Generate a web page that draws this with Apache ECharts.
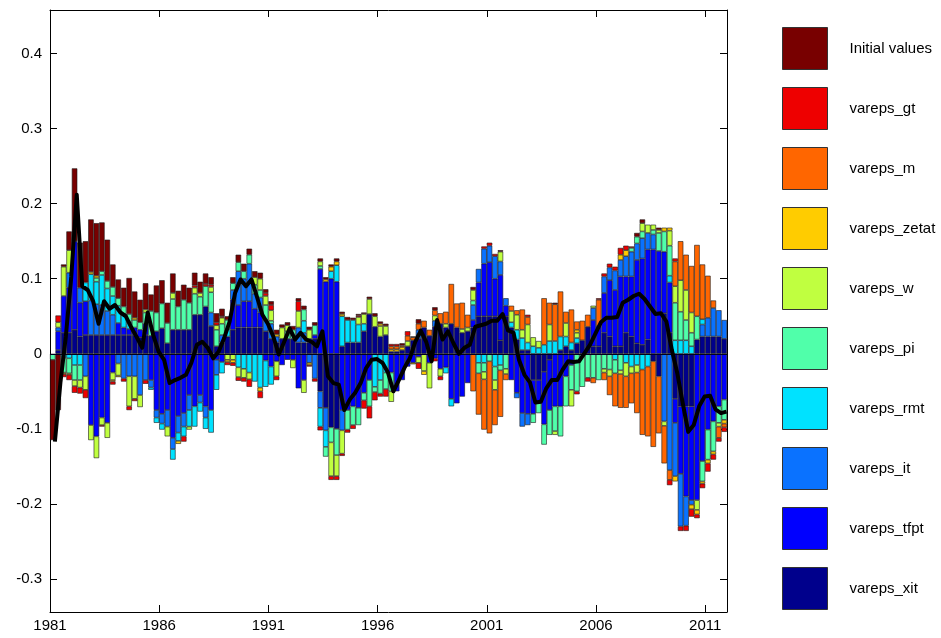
<!DOCTYPE html>
<html>
<head>
<meta charset="utf-8">
<title>Historical shock decomposition</title>
<script src="https://cdn.jsdelivr.net/npm/echarts@6/dist/echarts.min.js"></script>
<style>
  html, body { margin: 0; padding: 0; background: #fff; }
  #chart { width: 941px; height: 638px; }
</style>
</head>
<body>
<div id="chart"></div>
<script>
// quarterly contributions, 1981Q1 .. 2011Q4 (124 quarters)
const firstYear = 1981;
const yearLabels = [1981, 1986, 1991, 1996, 2001, 2006, 2011];
const valueTicks = [-0.3, -0.2, -0.1, 0, 0.1, 0.2, 0.3, 0.4];

const initialValues = [
  -.107, -.075, .003, .025, .097, .06, .055, .07, .07, .065,
  .055, .03, .025, .025, .048, .035, .03, .035, .022, .036,
  .031, .027, .026, .021, .02, .02, .017, .015, .014, .01,
  .012, .01, .005, .008, .01, .01, .008, .008, .008, .005,
  .005, .006, .004, .004, .005, .004, .005, .004, .004, .004,
  .003, .003, .004, .003, .004, .003, .002, .002, .003, .004,
  .003, .003, 0, 0, .003, 0, .001, .006, 0, 0,
  .004, 0, 0, 0, 0, 0, 0, .004, 0, 0,
  0, 0, .002, 0, 0, 0, 0, 0, 0, 0,
  0, 0, .002, 0, 0, 0, 0, 0, 0, 0,
  0, 0, 0, 0, 0, 0, 0, .005, .005, 0,
  0, .003, 0, 0, 0, 0, 0, 0, 0, 0,
  0, 0, 0, 0
];
const varepsGt = [
  0, .009, -.004, -.007, -.009, -.008, -.011, 0, 0, -.002,
  0, -.004, 0, -.004, -.005, -.003, 0, -.005, 0, 0,
  0, 0, 0, 0, -.007, 0, .003, 0, .003, .003,
  .004, .002, -.004, -.004, -.005, -.005, -.01, 0, -.009, .004,
  .007, -.005, 0, 0, 0, .013, 0, -.002, -.004, -.005,
  0, -.005, -.005, -.003, -.004, -.005, .002, -.011, -.016, -.011,
  -.004, -.01, .003, .003, 0, .006, 0, -.008, 0, 0,
  -.004, -.005, 0, 0, 0, 0, 0, 0, 0, .003,
  .004, .003, 0, 0, 0, 0, 0, .003, 0, 0,
  0, 0, 0, 0, 0, 0, -.004, 0, -.005, 0,
  .002, .004, .005, .005, .009, .006, .002, 0, 0, 0,
  0, 0, 0, -.007, .004, -.006, -.007, -.01, -.005, -.006,
  -.011, -.007, -.005, -.006
];
const varepsM = [
  0, 0, 0, 0, 0, 0, 0, 0, 0, 0,
  0, 0, 0, 0, 0, 0, 0, 0, 0, 0,
  0, 0, 0, 0, 0, 0, 0, 0, 0, 0,
  0, 0, 0, 0, 0, 0, 0, 0, 0, 0,
  0, 0, 0, 0, 0, 0, 0, 0, 0, 0,
  0, 0, 0, 0, 0, 0, 0, 0, 0, 0,
  0, 0, .004, .004, .002, .007, .004, .008, .009, .008,
  .007, .014, .016, .053, .032, .035, .017, -.05, -.055, -.067,
  -.096, -.047, -.062, -.008, .007, .006, .027, .01, 0, 0,
  .062, .029, .049, .06, .015, .044, .011, .026, .016, -.007,
  .035, -.01, -.025, -.044, -.045, -.042, -.04, -.054, -.087, -.093,
  -.114, -.076, -.05, -.013, .033, .052, .047, .062, .095, .073,
  .056, .01, -.015, -.005
];
const varepsZetat = [
  0, 0, -.002, -.002, 0, 0, 0, .003, .003, 0,
  0, -.002, -.002, 0, 0, .003, 0, 0, 0, 0,
  0, 0, 0, -.004, 0, 0, 0, 0, 0, 0,
  0, 0, -.003, -.004, 0, 0, 0, 0, -.005, 0,
  0, .003, 0, 0, 0, 0, 0, -.003, 0, 0,
  .003, .006, .005, .003, 0, 0, 0, 0, 0, 0,
  .003, 0, .003, .003, .004, 0, -.002, 0, -.005, 0,
  0, 0, 0, 0, 0, 0, 0, 0, 0, 0,
  0, 0, 0, 0, 0, 0, 0, 0, 0, 0,
  0, 0, 0, 0, 0, 0, .004, 0, 0, 0,
  0, 0, 0, 0, .007, .008, 0, 0, 0, 0,
  0, 0, .005, .004, -.007, 0, 0, -.006, -.006, -.003,
  -.005, -.004, 0, -.005
];
const varepsW = [
  0, .007, .039, .03, -.008, -.01, -.018, -.02, -.029, -.01,
  -.02, -.01, -.016, 0, -.04, -.03, -.016, .004, 0, 0,
  0, -.013, .008, 0, 0, -.004, .008, .005, 0, .007,
  .006, .008, -.008, -.008, -.013, -.012, -.009, .01, .015, .012,
  .014, -.02, .015, .008, -.011, .022, -.017, .012, 0, .006,
  0, -.045, -.028, -.031, 0, 0, .01, .013, .02, .014,
  .014, .012, -.014, 0, 0, .007, 0, -.008, -.023, -.034,
  .007, -.01, .005, 0, 0, .005, .005, .014, 0, -.01,
  0, -.013, .013, -.007, .015, .02, .011, .024, .012, .009,
  0, .022, -.005, 0, .018, -.022, .007, 0, 0, .003,
  0, -.005, -.009, 0, -.005, -.018, -.009, -.01, .011, .011,
  .007, .004, -.006, .02, .022, .042, .04, .027, -.013, 0,
  0, 0, -.005, 0
];
const varepsPi = [
  -.008, 0, -.02, -.02, -.02, -.02, 0, 0, .005, .005,
  .01, .012, .01, .01, .01, .01, .01, .015, .033, .025,
  .033, .027, .041, .031, .04, .036, .028, .024, .027, .027,
  .022, .015, .012, .009, .012, .01, .012, .012, .01, .02,
  .004, 0, 0, .01, .012, 0, .015, 0, .013, .004,
  -.013, -.02, -.035, 0, -.026, -.025, -.023, -.01, -.035, -.007,
  -.018, -.022, -.025, 0, 0, 0, 0, 0, 0, 0,
  0, 0, 0, 0, 0, 0, 0, .006, -.014, -.012,
  -.01, -.018, -.007, -.02, 0, 0, 0, 0, -.012, -.014,
  -.027, -.033, -.033, -.04, -.04, -.033, -.05, -.044, -.032, -.032,
  -.035, -.02, -.021, -.018, -.022, 0, .005, .009, .009, 0,
  .006, .024, .027, .04, .05, .038, .027, .018, .031, -.027,
  -.04, -.04, -.022, -.027
];
const varepsRmt = [
  0, 0, -.005, -.006, -.015, -.015, .025, .035, .03, .04,
  .03, .025, .023, .018, .01, 0, 0, 0, -.003, -.007,
  -.008, 0, -.014, -.011, -.013, -.022, -.027, -.012, -.015, -.03,
  -.02, -.015, .01, 0, -.018, -.02, -.025, -.037, -.045, -.035,
  -.024, 0, 0, 0, 0, 0, .016, 0, 0, -.025,
  -.022, .01, .022, .04, .03, .03, .024, .01, 0, -.044,
  -.035, -.025, 0, 0, 0, 0, 0, 0, 0, 0,
  0, 0, -.008, -.01, 0, 0, 0, 0, -.012, -.012,
  0, -.017, -.015, 0, .007, .013, .016, .01, .01, .008,
  .012, .017, .017, .018, .013, .01, .007, 0, 0, 0,
  0, 0, 0, -.008, 0, -.012, -.017, -.015, -.021, -.017,
  0, 0, 0, .009, .018, .018, .018, .01, 0, .007,
  0, 0, 0, 0
];
const varepsIt = [
  0, .005, 0, .02, 0, .02, -.03, .046, .041, .04,
  .032, .027, -.013, -.033, -.03, -.03, -.055, -.035, -.01, -.01,
  -.013, -.022, -.015, -.022, -.018, -.02, 0, -.01, -.015, .018,
  -.02, .01, 0, .013, .045, .03, .05, .02, .02, .015,
  .02, .008, 0, 0, 0, .02, .013, -.012, -.033, -.022,
  -.03, 0, 0, -.027, 0, 0, 0, 0, 0, 0,
  0, 0, 0, 0, 0, 0, 0, .012, 0, 0,
  .008, 0, 0, 0, 0, 0, 0, .02, .018, .02,
  .022, .03, .018, .01, 0, -.007, -.018, -.015, 0, 0,
  0, 0, 0, 0, 0, 0, 0, 0, 0, .016,
  0, .022, .017, .026, .022, .027, .033, .022, .027, .022,
  .02, 0, -.09, -.155, -.071, -.07, -.039, -.006, 0, .016,
  .025, .038, .035, .025
];
const varepsTfpt = [
  0, .025, .049, .06, .118, .045, .045, -.095, -.11, -.085,
  -.092, -.025, .016, .01, .008, .01, .01, .015, -.035, -.075,
  -.08, -.075, -.112, -.083, -.079, -.055, -.07, -.055, -.07, -.075,
  -.008, -.011, 0, .04, .03, .035, .035, .025, .02, -.009,
  -.017, -.01, -.015, -.008, -.008, -.046, -.035, .005, .005, .113,
  .096, .1, .096, -.075, -.075, -.07, -.072, -.052, -.035, 0,
  0, 0, -.025, -.05, -.035, -.017, -.012, -.004, 0, -.012,
  -.006, -.02, -.018, -.06, -.066, -.057, -.039, .01, .045, .07,
  .072, .05, .087, .014, -.035, -.052, -.079, -.08, -.045, -.03,
  -.07, -.067, -.07, -.07, -.03, -.015, 0, 0, 0, .035,
  .027, .053, .075, .075, .093, .075, .08, .111, .115, .12,
  .139, .137, .082, .067, -.032, -.09, -.12, -.125, -.195, -.143,
  -.101, -.09, -.07, -.061
];
const varepsXit = [
  0, .005, .028, .028, .032, .023, .025, .025, .025, .025,
  .025, .025, .025, .025, .025, .025, .022, .025, .024, .03,
  .034, .014, .032, .032, .032, .032, .052, .052, .063, .037,
  .01, .015, .023, .032, .035, .035, .035, .035, .035, .03,
  .02, .015, .02, .02, .02, .015, .015, .015, .02, -.05,
  -.072, -.098, -.1, .01, .015, .015, .015, .03, .053, .036,
  .023, .025, .003, .003, .005, .01, .018, .02, .035, .024,
  .036, .04, .035, .04, .035, .028, .03, .035, .05, .05,
  .05, .05, .018, .05, .035, .019, .005, .005, -.035, -.035,
  -.024, -.008, 0, .005, .01, .005, .014, .018, .036, .01,
  .01, .028, .023, .01, .01, .028, .023, .014, .012, .019,
  -.01, -.03, .054, .028, -.06, -.07, -.07, -.07, .019, .023,
  .023, .023, .023, .02
];
// the decomposed variable itself (black line)
const observed = [
  -.117, -.039, .023, .103, .212, .09, .085, .07, .04, .07,
  .06, .065, .055, .05, .035, .022, .008, .055, .025, .003,
  -.008, -.039, -.035, -.032, -.028, -.012, .012, .016, .008, -.006,
  .003, .021, .043, .081, .099, .09, .099, .076, .052, .04,
  .023, -.001, .016, .034, .019, .028, .019, .016, .01, .03,
  -.03, -.039, -.041, -.075, -.061, -.052, -.039, -.019, -.008, -.007,
  -.012, -.025, -.05, -.035, -.019, -.006, .016, .031, .016, -.01,
  .045, .019, .03, .014, 0, .008, .012, .036, .038, .04,
  .044, .044, .053, .031, .028, -.008, -.028, -.038, -.065, -.064,
  -.046, -.035, -.035, -.021, -.01, -.011, -.01, .001, .012, .027,
  .042, .048, .048, .049, .068, .072, .077, .08, .073, .063,
  .053, .054, .043, .005, -.026, -.066, -.104, -.095, -.07, -.057,
  -.056, -.074, -.079, -.077
];

const shocks = [
  { name: 'Initial values', values: initialValues, color: '#780000' },
  { name: 'vareps_gt', values: varepsGt, color: '#ee0000' },
  { name: 'vareps_m', values: varepsM, color: '#ff6600' },
  { name: 'vareps_zetat', values: varepsZetat, color: '#ffcc00' },
  { name: 'vareps_w', values: varepsW, color: '#c0ff40' },
  { name: 'vareps_pi', values: varepsPi, color: '#50ffaa' },
  { name: 'vareps_rmt', values: varepsRmt, color: '#00e2ff' },
  { name: 'vareps_it', values: varepsIt, color: '#0a72ff' },
  { name: 'vareps_tfpt', values: varepsTfpt, color: '#0000ff' },
  { name: 'vareps_xit', values: varepsXit, color: '#00008c' },
];

const quarters = observed.map((_, i) => firstYear + Math.floor(i / 4) + 'Q' + (i % 4 + 1));
const nYears = observed.length / 4;
const font = 'Liberation Sans, Arial, sans-serif';

const isTick = (v) => valueTicks.some((t) => Math.abs(t - v) < 1e-6);
const fmtValue = (v) => {
  if (!isTick(v)) return '';
  return Math.abs(v) < 1e-9 ? '0' : v.toFixed(1);
};

// series drawn closest to zero first, so the last shock sits next to the axis
const barSeries = shocks.slice().reverse().map((s) => ({
  name: s.name,
  type: 'bar',
  stack: 'decomp',
  xAxisIndex: 0,
  yAxisIndex: 0,
  barCategoryGap: '0%',
  data: s.values.map((v) => (v === 0 ? '-' : v)),
  itemStyle: { color: s.color, borderColor: '#1a1a1a', borderWidth: 0.6 },
  emphasis: { disabled: true },
}));

const lineSeries = {
  name: 'observed',
  type: 'line',
  xAxisIndex: 1,
  yAxisIndex: 0,
  z: 5,
  symbol: 'none',
  data: observed.map((v, i) => [(i + 0.9) / 4, v]),
  lineStyle: { color: '#000', width: 4, join: 'round' },
  emphasis: { disabled: true },
  markLine: {
    silent: true,
    symbol: 'none',
    label: { show: false },
    lineStyle: { color: '#000022', width: 1, type: 'solid' },
    data: [{ yAxis: 0 }],
  },
};

const valueAxisBase = {
  type: 'value',
  min: -0.344,
  max: 0.458,
  splitNumber: 8,
  splitLine: { show: false },
  axisLine: { show: true, onZero: false, lineStyle: { color: '#000', width: 1 } },
  axisTick: { show: true, inside: true, length: 7, lineStyle: { color: '#000' } },
};

const yearAxisBase = {
  type: 'value',
  min: 0,
  max: nYears,
  interval: 5,
  splitLine: { show: false },
  axisLine: { show: true, onZero: false, lineStyle: { color: '#000', width: 1 } },
  axisTick: { show: true, inside: true, length: 7, lineStyle: { color: '#000' } },
};

const option = {
  animation: false,
  backgroundColor: '#fff',
  textStyle: { fontFamily: font },
  grid: { left: 50, right: 214, top: 10, bottom: 26, containLabel: false },
  legend: {
    orient: 'vertical',
    left: 782,
    top: 27,
    padding: 0,
    itemWidth: 45,
    itemHeight: 42,
    itemGap: 17,
    icon: 'rect',
    selectedMode: false,
    data: shocks.map((s) => s.name),
    itemStyle: { borderColor: '#333', borderWidth: 1 },
    textStyle: { fontFamily: font, fontSize: 15, color: '#000', padding: [6, 0, 0, 17] },
  },
  xAxis: [
    {
      type: 'category',
      data: quarters,
      boundaryGap: true,
      show: false,
    },
    {
      ...yearAxisBase,
      position: 'bottom',
      axisLabel: {
        color: '#000',
        fontSize: 15,
        fontFamily: font,
        margin: 6,
        formatter: (v) => {
          const y = firstYear + Math.round(v);
          return Math.abs(v - Math.round(v)) < 1e-6 && yearLabels.includes(y) ? String(y) : '';
        },
      },
    },
    {
      ...yearAxisBase,
      position: 'top',
      axisLabel: { show: false },
    },
  ],
  yAxis: [
    {
      ...valueAxisBase,
      position: 'left',
      axisLabel: { color: '#000', fontSize: 15, fontFamily: font, margin: 8, formatter: fmtValue },
    },
    {
      ...valueAxisBase,
      position: 'right',
      axisLabel: { show: false },
    },
  ],
  series: [...barSeries, lineSeries],
};

const chart = echarts.init(document.getElementById('chart'), null, { renderer: 'canvas' });
chart.setOption(option);
</script>
</body>
</html>
